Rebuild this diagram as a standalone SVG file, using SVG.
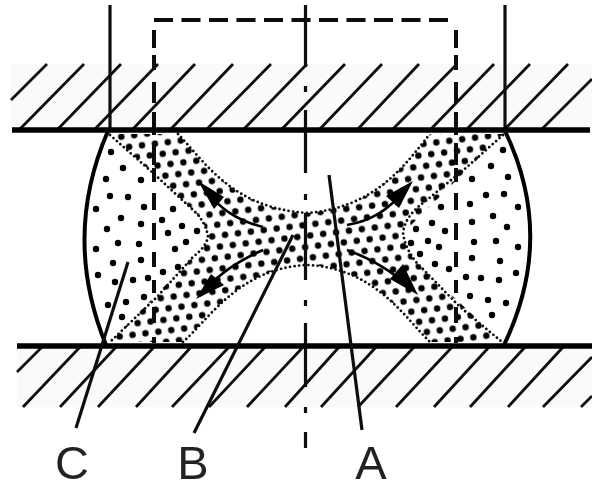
<svg xmlns="http://www.w3.org/2000/svg" width="592" height="489" viewBox="0 0 592 489">
<style>
.h{stroke:#111;stroke-width:2.8;fill:none}
.p{stroke:#000;stroke-width:5.5;fill:none}
.l{stroke:#0c0c0c;stroke-width:3.2;fill:none}
.d{stroke:#0c0c0c;stroke-width:4;fill:none}
.o{stroke:#111;stroke-width:2.8;fill:none;stroke-linecap:round;stroke-dasharray:0 4.600}
.b{stroke:#000;stroke-width:4;fill:none}
.a{stroke:#000;stroke-width:2.6;fill:none}
.c circle{fill:#000;r:3.2px}
.t{font-family:"Liberation Sans",Arial,sans-serif;font-size:47px;fill:#222;text-anchor:middle}
</style>
<defs>
<filter id="s" x="-2%" y="-2%" width="104%" height="104%"><feGaussianBlur stdDeviation="0.7"/></filter>
<pattern id="g" width="13" height="22" patternUnits="userSpaceOnUse" patternTransform="rotate(-7) translate(3 2)">
<circle cx="3.250" cy="5.500" r="3.200" fill="#000"/>
<circle cx="9.750" cy="16.500" r="3.200" fill="#000"/>
</pattern>
</defs>
<rect x="11" y="64" width="581" height="66" fill="#fafafa"/>
<rect x="17" y="346" width="575" height="61" fill="#fafafa"/>
<g filter="url(#s)">
<path class="h" d="M11,100L47,64M19,130L84,64M57,130L121,64M94,130L158,64M132,130L195,64M170,130L233,64M206,130L271,64M243,130L307,64M281,130L345,64M319,130L382,64M357,130L419,64M392,130L457,64M430,130L494,64M466,130L530,64M504,130L568,64M541,130L592,79"/>
<path class="h" d="M17,372L43,346M23,407L81,346M60,407L117,346M98,407L155,346M136,407L192,346M172,407L230,346M209,407L266,346M247,407L304,346M285,407L340,346M321,407L377,346M358,407L415,346M396,407L453,346M434,407L490,346M470,407L526,346M508,407L564,346M543,407L592,357M581,407L592,396"/>
<path d="M110,134L178,134C205,162 232,208 307,213C375,208 405,165 430,134L503,134L403,233Q405,248 416,262L502,342L430,342C405,318 375,268 307,265C240,268 210,318 183,342L110,342L193,257Q206,247 208,237Q206,222 193,210Z" fill="url(#g)"/>
<path class="o" d="M110,135L153,173L193,210Q206,222 208,237Q206,247 193,257L157,297L110,342"/>
<path class="o" d="M503,135L467,167L427,200Q405,215 403,233Q405,248 416,262L460,307L502,342"/>
<path class="o" d="M178,134C205,162 232,208 307,213C375,208 405,165 430,134"/>
<path class="o" d="M183,342C210,318 240,268 307,265C375,268 405,318 430,342"/>
<g class="c">
<circle cx="111" cy="152"/><circle cx="123" cy="168"/><circle cx="106" cy="179"/><circle cx="141" cy="180"/><circle cx="110" cy="196"/><circle cx="128" cy="197"/><circle cx="96" cy="209"/><circle cx="144" cy="207"/><circle cx="173" cy="209"/><circle cx="121" cy="218"/><circle cx="107" cy="229"/><circle cx="141" cy="224"/><circle cx="162" cy="220"/><circle cx="182" cy="226"/><circle cx="197" cy="231"/><circle cx="168" cy="233"/><circle cx="118" cy="243"/><circle cx="139" cy="244"/><circle cx="186" cy="242"/><circle cx="96" cy="249"/><circle cx="175" cy="249"/><circle cx="113" cy="263"/><circle cx="141" cy="260"/><circle cx="178" cy="267"/><circle cx="98" cy="275"/><circle cx="115" cy="282"/><circle cx="133" cy="280"/><circle cx="163" cy="272"/><circle cx="148" cy="278"/><circle cx="108" cy="305"/><circle cx="126" cy="302"/><circle cx="144" cy="297"/><circle cx="122" cy="317"/>
<circle cx="503" cy="150"/><circle cx="491" cy="166"/><circle cx="472" cy="179"/><circle cx="508" cy="177"/><circle cx="486" cy="195"/><circle cx="504" cy="194"/><circle cx="470" cy="204"/><circle cx="441" cy="207"/><circle cx="518" cy="207"/><circle cx="493" cy="216"/><circle cx="472" cy="222"/><circle cx="432" cy="223"/><circle cx="507" cy="227"/><circle cx="416" cy="229"/><circle cx="445" cy="231"/><circle cx="428" cy="241"/><circle cx="474" cy="242"/><circle cx="496" cy="241"/><circle cx="439" cy="247"/><circle cx="518" cy="247"/><circle cx="411" cy="243"/><circle cx="420" cy="254"/><circle cx="472" cy="258"/><circle cx="500" cy="261"/><circle cx="435" cy="264"/><circle cx="449" cy="269"/><circle cx="516" cy="273"/><circle cx="466" cy="277"/><circle cx="481" cy="278"/><circle cx="499" cy="280"/><circle cx="470" cy="296"/><circle cx="488" cy="300"/><circle cx="506" cy="303"/><circle cx="492" cy="315"/>
</g>
<path class="l" d="M110,5V130M505,5V130"/>
<path class="l" d="M305.500,5V67M305.500,86V92M305.500,110V173M305.500,194V200M305.500,213V280M305.500,300V306M305.500,323V387M305.500,407V413M305.500,432V448"/>
<path class="d" d="M154,20H456" stroke-dasharray="19 8.500"/>
<path class="d" d="M154,30V48M154,55V70M154,82V103M154,112V135M154,143V165M154,168V182M154,193V210M154,223V240M154,252V267M154,280V293M154,307V323M154,337V343"/>
<path class="d" d="M456,30V48M456,55V70M456,82V103M456,112V135M456,143V165M456,168V182M456,193V210M456,223V240M456,252V267M456,280V293M456,307V323M456,337V343"/>
<path class="b" d="M108,131Q62,237 106,345M505,131Q556,237 504,345"/>
<path class="p" d="M12,130H590M17,346H592"/>
<path class="a" d="M263,227Q226,218 207,191M263,250Q226,266 205,290M347,225Q383,219 404,190M347,250Q385,264 407,286"/>
<path fill="#000" d="M198,181L224,197L214,209ZM196,299L211,274L224,285ZM413,181L399,208L386,196ZM418,295L390,279L403,264Z"/>
<path class="l" d="M128,262L76,428M293,235L194,433M329,175L362,430"/>
<text class="t" x="72" y="479">C</text>
<text class="t" x="193" y="479">B</text>
<text class="t" x="371" y="479">A</text>
</g>
</svg>
